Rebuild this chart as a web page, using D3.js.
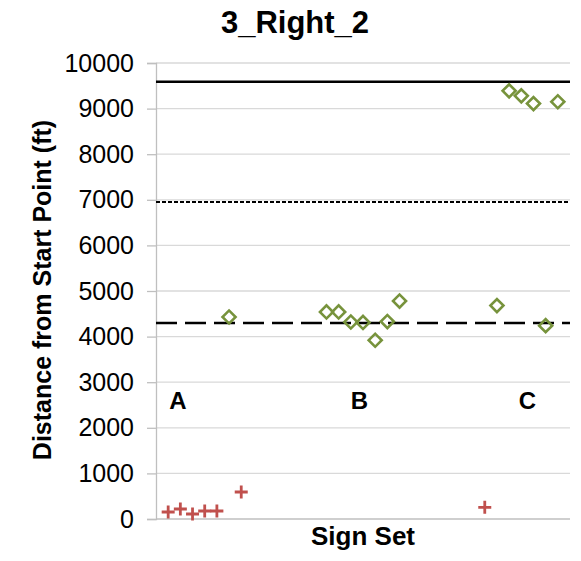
<!DOCTYPE html>
<html>
<head>
<meta charset="utf-8">
<script src="https://cdn.jsdelivr.net/npm/d3@7"></script>
<style>
  body { margin: 0; background: #fff; }
  text { font-family: "Liberation Sans", Arial, sans-serif; fill: #000; }
</style>
</head>
<body>
<svg id="chart" width="581" height="561"></svg>
<script>
// point index along the x axis, and distance in ft
const plusIdx = [1, 2, 3, 4, 5, 7, 27];
const plusVal = [153, 219, 110, 175, 175, 592, 256];

const diamondIdx = [6, 14, 15, 16, 17, 18, 19, 20, 28, 29, 30, 31, 32, 33];
const diamondVal = [4430, 4540, 4540, 4320, 4310, 3920, 4330, 4780, 4680, 9390, 9280, 9110, 4240, 9150];

const refValues = [9590, 6950, 4300];
const groupNames = ["A", "B", "C"];
const groupPos = [1.8, 16.7, 30.5];
const yTicks = d3.range(0, 10001, 1000);

const margin = { left: 156, right: 11, top: 63, bottom: 42 };
const W = 581, H = 561;

const svg = d3.select("#chart");
const x = d3.scaleLinear().domain([0, 34]).range([margin.left, W - margin.right]);
const y = d3.scaleLinear().domain([0, 10000]).range([H - margin.bottom, margin.top]);

// gridlines
svg.append("g")
  .selectAll("line")
  .data(yTicks.filter(d => d > 0))
  .join("line")
  .attr("x1", x(0)).attr("x2", x(34))
  .attr("y1", d => y(d)).attr("y2", d => y(d))
  .attr("stroke", "#d9d9d9").attr("stroke-width", 1.3);

// y axis
const yAxis = svg.append("g")
  .attr("transform", `translate(${x(0)},0)`)
  .call(d3.axisLeft(y).tickValues(yTicks).tickFormat(d3.format("d")).tickSize(9).tickPadding(13));
yAxis.select(".domain").attr("stroke", "#bfbfbf").attr("stroke-width", 1.3);
yAxis.selectAll(".tick line").attr("stroke", "#bfbfbf").attr("stroke-width", 1.3);
yAxis.selectAll(".tick text")
  .attr("font-size", 25)
  .attr("font-family", "Liberation Sans, Arial, sans-serif")
  .attr("fill", "#000");

// x axis baseline
svg.append("line")
  .attr("x1", x(0)).attr("x2", x(34))
  .attr("y1", y(0)).attr("y2", y(0))
  .attr("stroke", "#bfbfbf").attr("stroke-width", 1.3);

// reference lines
const refStyle = [
  { dash: null, width: 2.5 },
  { dash: "4,2", width: 2 },
  { dash: "21,8", width: 2.5 }
];
refValues.forEach((v, i) => {
  svg.append("line")
    .attr("x1", x(0)).attr("x2", x(34))
    .attr("y1", y(v)).attr("y2", y(v))
    .attr("stroke", "#000")
    .attr("stroke-width", refStyle[i].width)
    .attr("stroke-dasharray", refStyle[i].dash);
});

// group labels
svg.append("g")
  .selectAll("text")
  .data(groupNames)
  .join("text")
  .attr("x", (d, i) => x(groupPos[i]))
  .attr("y", y(2600))
  .attr("dy", "0.36em")
  .attr("text-anchor", "middle")
  .attr("font-size", 24)
  .attr("font-weight", "bold")
  .text(d => d);

// diamonds
const diamond = d3.symbol().type(d3.symbolSquare).size(85);
svg.append("g")
  .selectAll("path")
  .data(diamondIdx.map((d, i) => [d, diamondVal[i]]))
  .join("path")
  .attr("d", diamond)
  .attr("transform", d => `translate(${x(d[0])},${y(d[1])}) rotate(45)`)
  .attr("fill", "none")
  .attr("stroke", "#77933c")
  .attr("stroke-width", 2.6);

// plus markers
const p = 6.5;
svg.append("g")
  .selectAll("path")
  .data(plusIdx.map((d, i) => [d, plusVal[i]]))
  .join("path")
  .attr("d", `M${-p},0H${p}M0,${-p}V${p}`)
  .attr("transform", d => `translate(${x(d[0])},${y(d[1])})`)
  .attr("stroke", "#c0504d")
  .attr("stroke-width", 2.8);

// titles
svg.append("text")
  .attr("x", 295).attr("y", 33)
  .attr("text-anchor", "middle")
  .attr("font-size", 31)
  .attr("font-weight", "bold")
  .text("3_Right_2");

svg.append("text")
  .attr("x", (x(0) + x(34)) / 2).attr("y", 545)
  .attr("text-anchor", "middle")
  .attr("font-size", 26)
  .attr("font-weight", "bold")
  .text("Sign Set");

svg.append("text")
  .attr("transform", `translate(51,290) rotate(-90)`)
  .attr("text-anchor", "middle")
  .attr("font-size", 25)
  .attr("font-weight", "bold")
  .text("Distance from Start Point (ft)");
</script>
</body>
</html>
